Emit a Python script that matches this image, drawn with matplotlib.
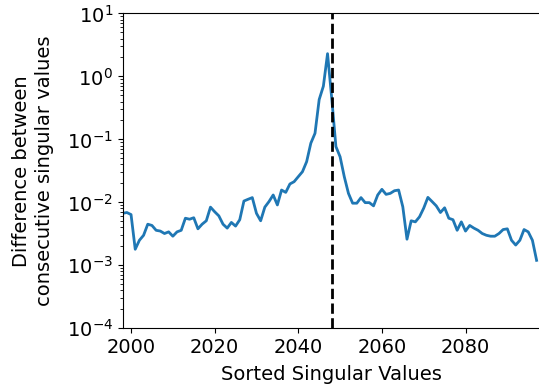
import matplotlib
matplotlib.use("Agg")
import matplotlib.pyplot as plt
import numpy as np

x_start = 1998
diffs = [
    0.0067, 0.0069, 0.0064, 0.0018, 0.0025, 0.0030, 0.0045, 0.0043, 0.0036, 0.0035,
    0.0032, 0.0034, 0.0029, 0.0034, 0.0036, 0.0056, 0.0054, 0.0057, 0.0038, 0.0045,
    0.0051, 0.0084, 0.0071, 0.0061, 0.0045, 0.0039, 0.0048, 0.0042, 0.0053, 0.0105,
    0.0112, 0.0119, 0.0067, 0.0051, 0.0084, 0.0103, 0.0131, 0.0091, 0.0157, 0.0144,
    0.0196, 0.0213, 0.0256, 0.0307, 0.0443, 0.087, 0.125, 0.43, 0.70, 2.3,
    0.45, 0.077, 0.053, 0.0256, 0.0139, 0.0097, 0.0097, 0.0119, 0.0099, 0.0099,
    0.0088, 0.0131, 0.0161, 0.0134, 0.0139, 0.0153, 0.0157, 0.0085, 0.0026, 0.0051,
    0.0049, 0.0059, 0.0081, 0.0120, 0.0103, 0.0088, 0.0069, 0.0082, 0.0056, 0.0053,
    0.0036, 0.0049, 0.0035, 0.0043, 0.0039, 0.0036, 0.0032, 0.0030, 0.0029, 0.0029,
    0.0032, 0.0037, 0.0038, 0.0025, 0.0021, 0.0025, 0.0037, 0.0034, 0.0025, 0.0012,
]
x_vals = np.arange(x_start, x_start + len(diffs))
cutoff = 2048
x_ticks = [2000, 2020, 2040, 2060, 2080]

fig = plt.figure(figsize=(5.39, 3.91), dpi=100)
ax = fig.add_axes([0.2276, 0.1604, 0.7757, 0.8051])
ax.plot(x_vals, diffs, color="#1f77b4", lw=2)
ax.axvline(cutoff, color="black", ls="--", lw=2)
ax.set_yscale("log")
ax.set_ylim(1e-4, 1e1)
ax.set_xlim(1998, 2098)
ax.set_xticks(x_ticks)
ax.tick_params(labelsize=14)
ax.set_xlabel("Sorted Singular Values", fontsize=14, labelpad=6)
ax.set_ylabel("Difference between\nconsecutive singular values", fontsize=14,
              labelpad=9, linespacing=1.3)
fig.savefig("out.png", dpi=100)
